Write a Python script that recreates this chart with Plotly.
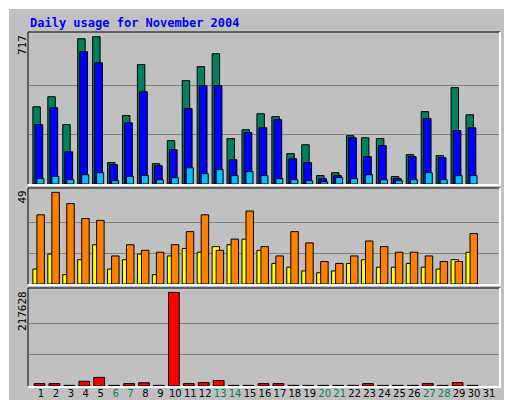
import plotly.graph_objects as go

days = list(range(1, 31))
hits = [376,425,289,707,717,104,333,581,99,211,503,571,634,221,264,342,328,148,191,41,55,235,225,221,36,143,352,138,469,337]
files = [289,371,157,644,590,94,298,449,89,167,367,479,479,118,250,274,313,123,104,26,41,225,133,187,26,133,318,128,260,274]
pages = [26,37,21,45,55,16,37,42,21,31,79,50,70,41,60,41,26,21,16,11,31,26,45,21,16,21,55,21,41,41]
visits = [8,16,5,13,21,8,13,16,5,15,19,17,20,21,24,18,11,9,7,6,7,11,13,9,9,11,9,8,13,17]
sites = [37,49,43,35,34,15,21,18,17,21,28,37,18,24,39,20,15,28,22,12,11,15,23,20,17,17,15,12,12,27]
kbytes = [5500,5500,1500,11000,20000,1500,5500,7500,1500,217628,5500,7900,12700,1500,1500,5500,5500,1500,1500,1500,1500,1500,5500,1500,1500,1500,5500,1500,8000,1500]
weekend = [6,7,13,14,20,21,27,28]
tick_days = list(range(1, 32))

C_HITS, C_FILES, C_PAGES = "#00805C", "#0000FF", "#00C0FF"
C_VIS, C_SITES, C_KB = "#FFFF00", "#FF8000", "#FF0000"
ln = dict(color="black", width=1)

fig = go.Figure()
def bar(y, color, off, w, ya):
    fig.add_trace(go.Bar(x=days, y=y, marker=dict(color=color, line=ln), offset=off,
                         width=w, xaxis="x" if ya == "y" else "x" + ya[1:], yaxis=ya))
bar(hits, C_HITS, -0.54, 0.5, "y")
bar(files, C_FILES, -0.4, 0.52, "y")
bar(pages, C_PAGES, -0.27, 0.47, "y")
bar(visits, C_VIS, -0.54, 0.5, "y2")
bar(sites, C_SITES, -0.27, 0.5, "y2")
bar(kbytes, C_KB, -0.46, 0.72, "y3")

xr = [0.2, 31.67]
dom = [21/512, 491/512]
xcommon = dict(range=xr, domain=dom, showgrid=False, zeroline=False, showline=False,
               fixedrange=True, automargin=False)
ticktext = [f"<span style='color:{C_HITS}'>{d}</span>" if d in weekend else str(d) for d in tick_days]
def yax(mx, top, d):
    return dict(range=[0, top], domain=d, tickvals=[mx/3, 2*mx/3], showticklabels=False,
                gridcolor="#808080", gridwidth=1, zeroline=False, showline=False, ticks="",
                automargin=False)
fig.update_layout(
    width=512, height=400, margin=dict(l=0, r=0, t=0, b=0, autoexpand=False),
    paper_bgcolor="#C0C0C0", plot_bgcolor="#C0C0C0", showlegend=False, barmode="overlay",
    font=dict(family="DejaVu Sans Mono", size=11, color="black"),
    xaxis=dict(**xcommon, anchor="y", showticklabels=False, ticks=""),
    xaxis2=dict(**xcommon, anchor="y2", showticklabels=False, ticks=""),
    xaxis3=dict(**xcommon, anchor="y3", tickvals=tick_days, ticktext=ticktext, ticks="",
                tickangle=0, tickfont=dict(family="DejaVu Sans", size=10)),
    yaxis=yax(717, 735, [224/400, 375/400]),
    yaxis2=yax(49, 50.8, [124/400, 219/400]),
    yaxis3=yax(217628, 225600, [22/400, 119/400]),
)

ann = [
    dict(text="<b>Daily usage for November 2004</b>", x=20/512, y=394/400, xanchor="left", yanchor="top",
         font=dict(color="#0000FF", size=12)),
    dict(text="717", x=14/512, y=375/400, textangle=-90, xanchor="center", yanchor="top"),
    dict(text="49", x=14/512, y=219/400, textangle=-90, xanchor="center", yanchor="top"),
    dict(text="217628", x=14/512, y=119/400, textangle=-90, xanchor="center", yanchor="top"),
    dict(text=f"<span style='color:{C_PAGES}'>Pages</span>/<span style='color:{C_FILES}'>Files</span>/<span style='color:{C_HITS}'>Hits</span>",
         x=501/512, y=375/400, textangle=-90, xanchor="center", yanchor="top"),
    dict(text=f"<span style='color:{C_SITES}'>Sites</span>/<span style='color:{C_VIS}'>Visits</span>",
         x=501/512, y=200/400, textangle=-90, xanchor="center", yanchor="top"),
    dict(text=f"<span style='color:{C_KB}'>KBytes</span>", x=501/512, y=22/400, textangle=-90,
         xanchor="center", yanchor="bottom"),
]
for a in ann:
    a.update(xref="paper", yref="paper", showarrow=False)
    fig.add_annotation(**a)

shapes = []
def seg(x0, y0, x1, y1, c, w=1):
    shapes.append(dict(type="line", xref="paper", yref="paper", x0=x0/512, y0=1-y0/400,
                       x1=x1/512, y1=1-y1/400, line=dict(color=c, width=w)))
for top, bot in [(24, 176), (180, 276), (280, 378)]:
    seg(20, top, 492, top, "black"); seg(20, top, 20, bot, "black")
    seg(20, bot+1, 493, bot+1, "white", 2); seg(492, top, 492, bot+1, "white", 2)
seg(0.5, 0.5, 511.5, 0.5, "white", 1); seg(0.5, 0.5, 0.5, 399.5, "white", 1)
seg(0, 399.5, 512, 399.5, "#606060", 2); seg(511.5, 0, 511.5, 400, "#606060", 2)
fig.update_layout(shapes=shapes)
fig.write_html("out.html")
